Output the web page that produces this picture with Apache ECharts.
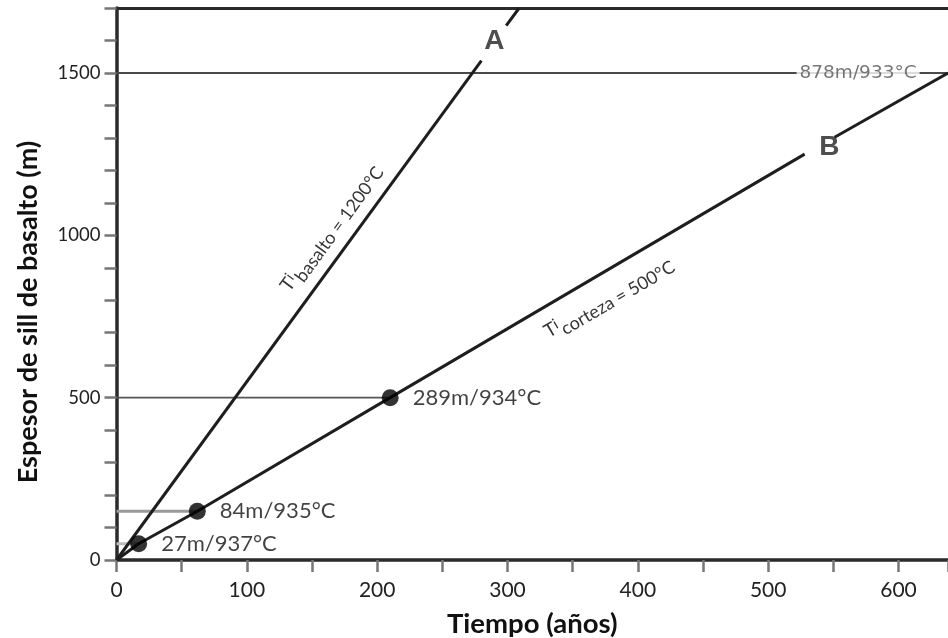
<!DOCTYPE html>
<html><head><meta charset="utf-8">
<script src="https://cdn.jsdelivr.net/npm/echarts@6/dist/echarts.min.js"></script>
<style>html,body{margin:0;padding:0;background:#fff}#c{width:948px;height:638px}</style>
</head><body><div id="c"></div>
<script>
// ---- data ----
const xName = 'Tiempo (años)';
const yName = 'Espesor de sill de basalto (m)';
const xRange = [0, 638];
const yRange = [0, 1700];
const xLabelStep = 100, xTickStep = 50;
const yLabelStep = 500, yTickStep = 100;
// line A (Ti basalto = 1200°C), broken around the "A" tag
const lineA_low = [[0, 0], [280, 1538]];
const lineA_high = [[299, 1646], [309, 1700]];
// line B (Ti corteza = 500°C), broken around the "B" tag
const lineB_low = [[0, 0], [17, 50], [62, 150], [210, 500], [528, 1250]];
const lineB_high = [[551, 1302], [638, 1500]];
// sampled sills
const sampleT = [17, 62, 210];
const sampleH = [50, 150, 500];
const sampleText = ['27m/937°C', '84m/935°C', '289m/934°C'];
// horizontal reference levels (thickness) and where they stop (time)
const refH = [1500, 500, 150, 50];
const refEnd = [638, 210, 62, 17];
const refColor = ['#4a4a4a', '#555555', '#9a9a9a', '#bdbdbd'];
const refWidth = [2, 1.6, 3, 3];
const topText = '878m/933°C';
const topTextAt = [569, 1500];
// curve tags
const tagA = {text: 'A', at: [290, 1598]};
const tagB = {text: 'B', at: [547, 1271]};
const noteA = {at: [165, 1021], rotate: 54};
const noteB = {at: [378, 805], rotate: 30.4};

const chart = echarts.init(document.getElementById('c'), null, {renderer: 'canvas'});
const dark = '#1e1e1e';
const series = [];
refH.forEach((h, i) => {
  series.push({type: 'line', data: [[0, h], [refEnd[i], h]], symbol: 'none', silent: true,
    lineStyle: {color: refColor[i], width: refWidth[i]}, z: 1});
});
[lineA_low, lineA_high, lineB_low, lineB_high].forEach(d => {
  series.push({type: 'line', data: d, symbol: 'none', silent: true,
    lineStyle: {color: dark, width: 3}, z: 3});
});
series.push({type: 'scatter', data: sampleT.map((t, i) => [t, sampleH[i], sampleText[i]]),
  symbolSize: 17, itemStyle: {color: '#000'}, z: 5,
  label: {show: true, position: 'right', distance: 14, formatter: p => p.value[2],
    fontFamily: 'Lato', fontSize: 22, color: '#111'}});
series.push({type: 'scatter', data: [topTextAt], symbolSize: 0, z: 6,
  label: {show: true, position: 'inside', formatter: topText, fontFamily: 'DejaVu Sans',
    fontSize: 18.5, color: '#555', backgroundColor: '#fff', padding: [0, 3]}});
series.push({type: 'scatter', data: [tagA.at, tagB.at], symbolSize: 0, z: 6,
  label: {show: true, position: 'inside', formatter: p => p.dataIndex === 0 ? tagA.text : tagB.text,
    fontFamily: 'Liberation Sans', fontWeight: 'bold', fontSize: 28, color: '#222'}});
function noteRich() {
  return {
    T: {fontFamily: 'Lato', fontSize: 19, color: '#000', lineHeight: 26, verticalAlign: 'top', padding: [1, 0, 0, 0]},
    s: {fontFamily: 'Lato', fontSize: 15, color: '#000', lineHeight: 26, verticalAlign: 'top', padding: [0, 1, 0, 0]},
    b: {fontFamily: 'Lato', fontSize: 18, color: '#000', lineHeight: 26, verticalAlign: 'bottom', padding: [0, 0, 0, 0]}
  };
}
series.push({type: 'scatter', data: [noteA.at], symbolSize: 0, z: 6,
  label: {show: true, position: 'inside', rotate: noteA.rotate,
    formatter: '{T|T}{s|i}{b|basalto = 1200°C}', rich: noteRich()}});
series.push({type: 'scatter', data: [noteB.at], symbolSize: 0, z: 6,
  label: {show: true, position: 'inside', rotate: noteB.rotate,
    formatter: '{T|T}{s|i}{b|corteza = 500°C}', rich: noteRich()}});

chart.setOption({
  animation: false,
  backgroundColor: '#fff',
  grid: {left: 116.5, right: 0, top: 8, bottom: 78, containLabel: false, outerBoundsMode: 'none'},
  xAxis: [{
    type: 'value', min: xRange[0], max: xRange[1], interval: xTickStep,
    name: xName, nameLocation: 'middle', nameGap: 50,
    nameTextStyle: {fontFamily: 'Lato', fontWeight: 'bold', fontSize: 27.5, color: '#111'},
    axisLine: {show: true, lineStyle: {color: '#2a2a2a', width: 3.5}},
    axisTick: {show: true, inside: false, length: 12, lineStyle: {color: '#777', width: 2.5}},
    axisLabel: {margin: 20, fontFamily: 'Lato', fontSize: 21, color: '#222',
      formatter: v => (v % xLabelStep === 0 && v <= 600) ? String(v) : ''},
    splitLine: {show: false}
  }, {
    type: 'value', position: 'top', min: xRange[0], max: xRange[1],
    axisLine: {show: true, lineStyle: {color: '#2a2a2a', width: 3}},
    axisTick: {show: false}, axisLabel: {show: false}, splitLine: {show: false}
  }],
  yAxis: {
    type: 'value', min: yRange[0], max: yRange[1], interval: yTickStep,
    axisLine: {show: true, lineStyle: {color: '#2a2a2a', width: 3.5}},
    axisTick: {show: true, inside: false, length: 12, lineStyle: {color: '#777', width: 2.5}},
    axisLabel: {margin: 16, fontFamily: 'Lato', fontSize: 18.5,
      color: v => v === 0 ? '#777' : '#222',
      formatter: v => v % yLabelStep === 0 ? String(v) : ''},
    splitLine: {show: false}
  },
  graphic: [{type: 'text', x: 28, y: 312, rotation: Math.PI / 2,
    style: {text: yName, fontFamily: 'Lato', fontWeight: 'bold', fontSize: 27, fill: '#111',
      textAlign: 'center', textVerticalAlign: 'middle'}}],
  series: series
});
</script></body></html>
